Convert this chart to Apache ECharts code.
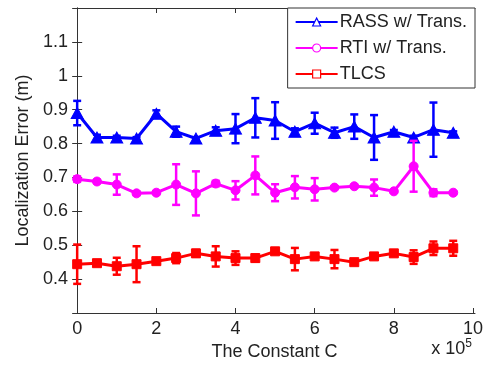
<!DOCTYPE html>
<html>
<head>
<meta charset="utf-8">
<script src="https://cdn.jsdelivr.net/npm/echarts@6/dist/echarts.min.js"></script>
<style>html,body{margin:0;padding:0;background:#fff}#c{width:492px;height:367px}</style>
</head>
<body>
<div id="c"></div>
<script>
// ---- data ----
var xValues = [0, 0.5, 1, 1.5, 2, 2.5, 3, 3.5, 4, 4.5, 5, 5.5, 6, 6.5, 7, 7.5, 8, 8.5, 9, 9.5];
var rassMean = [0.890, 0.818, 0.818, 0.815, 0.888, 0.835, 0.815, 0.838, 0.844, 0.876, 0.868, 0.835, 0.860, 0.832, 0.850, 0.818, 0.835, 0.818, 0.841, 0.832];
var rassErr  = [0.036, 0.008, 0.005, 0.004, 0.010, 0.015, 0.004, 0.010, 0.043, 0.058, 0.054, 0.010, 0.031, 0.015, 0.036, 0.066, 0.005, 0.005, 0.080, 0.004];
var rtiMean  = [0.695, 0.688, 0.679, 0.653, 0.655, 0.679, 0.653, 0.682, 0.662, 0.706, 0.655, 0.671, 0.665, 0.670, 0.674, 0.670, 0.659, 0.733, 0.655, 0.655];
var rtiErr   = [0.008, 0.005, 0.030, 0.005, 0.004, 0.060, 0.065, 0.008, 0.027, 0.056, 0.025, 0.033, 0.033, 0.004, 0.004, 0.024, 0.004, 0.075, 0.010, 0.004];
var tlcsMean = [0.444, 0.447, 0.438, 0.444, 0.453, 0.462, 0.476, 0.467, 0.462, 0.462, 0.482, 0.459, 0.467, 0.459, 0.450, 0.467, 0.476, 0.465, 0.491, 0.491];
var tlcsErr  = [0.058, 0.006, 0.025, 0.053, 0.005, 0.015, 0.010, 0.030, 0.020, 0.010, 0.005, 0.033, 0.004, 0.027, 0.004, 0.004, 0.004, 0.020, 0.020, 0.022];
var xTicks = [0, 2, 4, 6, 8, 10];
var seriesNames = ['RASS w/ Trans.', 'RTI w/ Trans.', 'TLCS'];
// ---------------

var FONT = 'Liberation Sans, Arial, Helvetica, sans-serif';
var FS = 18;
var TXT = '#222';
var AX = '#333';
var colors = ['#0000ff', '#ff00ff', '#ff0000'];
var symbols = ['triangle', 'circle', 'rect'];
var symSizes = [[12, 11], 9, 9];
var means = [rassMean, rtiMean, tlcsMean];
var errs = [rassErr, rtiErr, tlcsErr];

function pts(m) { return xValues.map(function (x, i) { return [x, m[i]]; }); }
function errData(m, e) { return xValues.map(function (x, i) { return [x, m[i], e[i]]; }); }

function errRender(color) {
  return function (params, api) {
    var x = api.value(0), m = api.value(1), e = api.value(2);
    var top = api.coord([x, m + e]);
    var bot = api.coord([x, m - e]);
    var hw = 4;
    var st = { stroke: color, lineWidth: 2.5 };
    return {
      type: 'group',
      children: [
        { type: 'line', shape: { x1: top[0], y1: top[1], x2: bot[0], y2: bot[1] }, style: st },
        { type: 'line', shape: { x1: top[0] - hw, y1: top[1], x2: top[0] + hw, y2: top[1] }, style: st },
        { type: 'line', shape: { x1: bot[0] - hw, y1: bot[1], x2: bot[0] + hw, y2: bot[1] }, style: st }
      ]
    };
  };
}

var series = [];
for (var k = 0; k < 3; k++) {
  series.push({
    name: seriesNames[k] + '_err', type: 'custom', renderItem: errRender(colors[k]),
    data: errData(means[k], errs[k]), z: 2 + k * 2, silent: true
  });
  series.push({
    name: seriesNames[k], type: 'line', data: pts(means[k]),
    symbol: symbols[k], symbolSize: symSizes[k], showAllSymbol: true,
    lineStyle: { color: colors[k], width: 3 },
    itemStyle: { color: colors[k], borderColor: colors[k], borderWidth: 1 },
    z: 3 + k * 2, animation: false
  });
}

var axisLbl = { color: TXT, fontFamily: FONT, fontSize: FS };
var chart = echarts.init(document.getElementById('c'), null, { renderer: 'canvas' });
chart.setOption({
  animation: false,
  backgroundColor: '#fff',
  grid: { left: 74, right: 17, top: 8, bottom: 54 },
  legend: {
    right: 17, top: 8,
    orient: 'vertical',
    backgroundColor: '#fff', borderColor: AX, borderWidth: 1,
    padding: [5, 8, 5, 7],
    itemGap: 8, itemWidth: 42, itemHeight: 10,
    textStyle: { color: TXT, fontFamily: FONT, fontSize: FS, padding: [0, 0, 0, -3] },
    data: seriesNames.map(function (n, i) {
      return { name: n, itemStyle: { color: '#fff', borderColor: colors[i], borderWidth: 1.2 } };
    })
  },
  xAxis: [{
    type: 'value', min: -0.08, max: 10.05, position: 'bottom',
    name: 'The Constant C', nameLocation: 'middle', nameGap: 28,
    nameTextStyle: { color: TXT, fontFamily: FONT, fontSize: FS },
    axisLine: { show: true, lineStyle: { color: AX, width: 1 } },
    axisTick: { show: true, inside: true, length: 5, customValues: xTicks, lineStyle: { color: AX } },
    axisLabel: Object.assign({ margin: 7, customValues: xTicks }, axisLbl),
    splitLine: { show: false }
  }, {
    type: 'value', min: -0.08, max: 10.05, position: 'top',
    axisLine: { show: true, lineStyle: { color: AX, width: 1 } },
    axisTick: { show: true, inside: true, length: 5, customValues: xTicks, lineStyle: { color: AX } },
    axisLabel: { show: false }, splitLine: { show: false }
  }],
  yAxis: [{
    type: 'value', min: 0.3, max: 1.2, interval: 0.1, position: 'left',
    name: 'Localization Error (m)', nameLocation: 'middle', nameGap: 42,
    nameTextStyle: { color: TXT, fontFamily: FONT, fontSize: FS },
    axisLine: { show: true, lineStyle: { color: AX, width: 1 } },
    axisTick: { show: true, inside: true, length: 5, lineStyle: { color: AX } },
    axisLabel: Object.assign({ margin: 6, showMinLabel: false, showMaxLabel: false,
      formatter: function (v) { return (Math.round(v * 10) / 10).toString(); } }, axisLbl),
    splitLine: { show: false }
  }, {
    type: 'value', min: 0.3, max: 1.2, interval: 0.1, position: 'right',
    axisLine: { show: true, lineStyle: { color: AX, width: 1 } },
    axisTick: { show: true, inside: true, length: 5, lineStyle: { color: AX } },
    axisLabel: { show: false }, splitLine: { show: false }
  }],
  title: {
    text: 'x 10{sup|5}', right: 15, bottom: 4,
    textStyle: { color: TXT, fontFamily: FONT, fontSize: FS, fontWeight: 'normal',
      rich: { sup: { fontSize: 12, verticalAlign: 'top', padding: [0, 0, 10, 0], color: TXT, fontFamily: FONT } } }
  },
  series: series
});
</script>
</body>
</html>
